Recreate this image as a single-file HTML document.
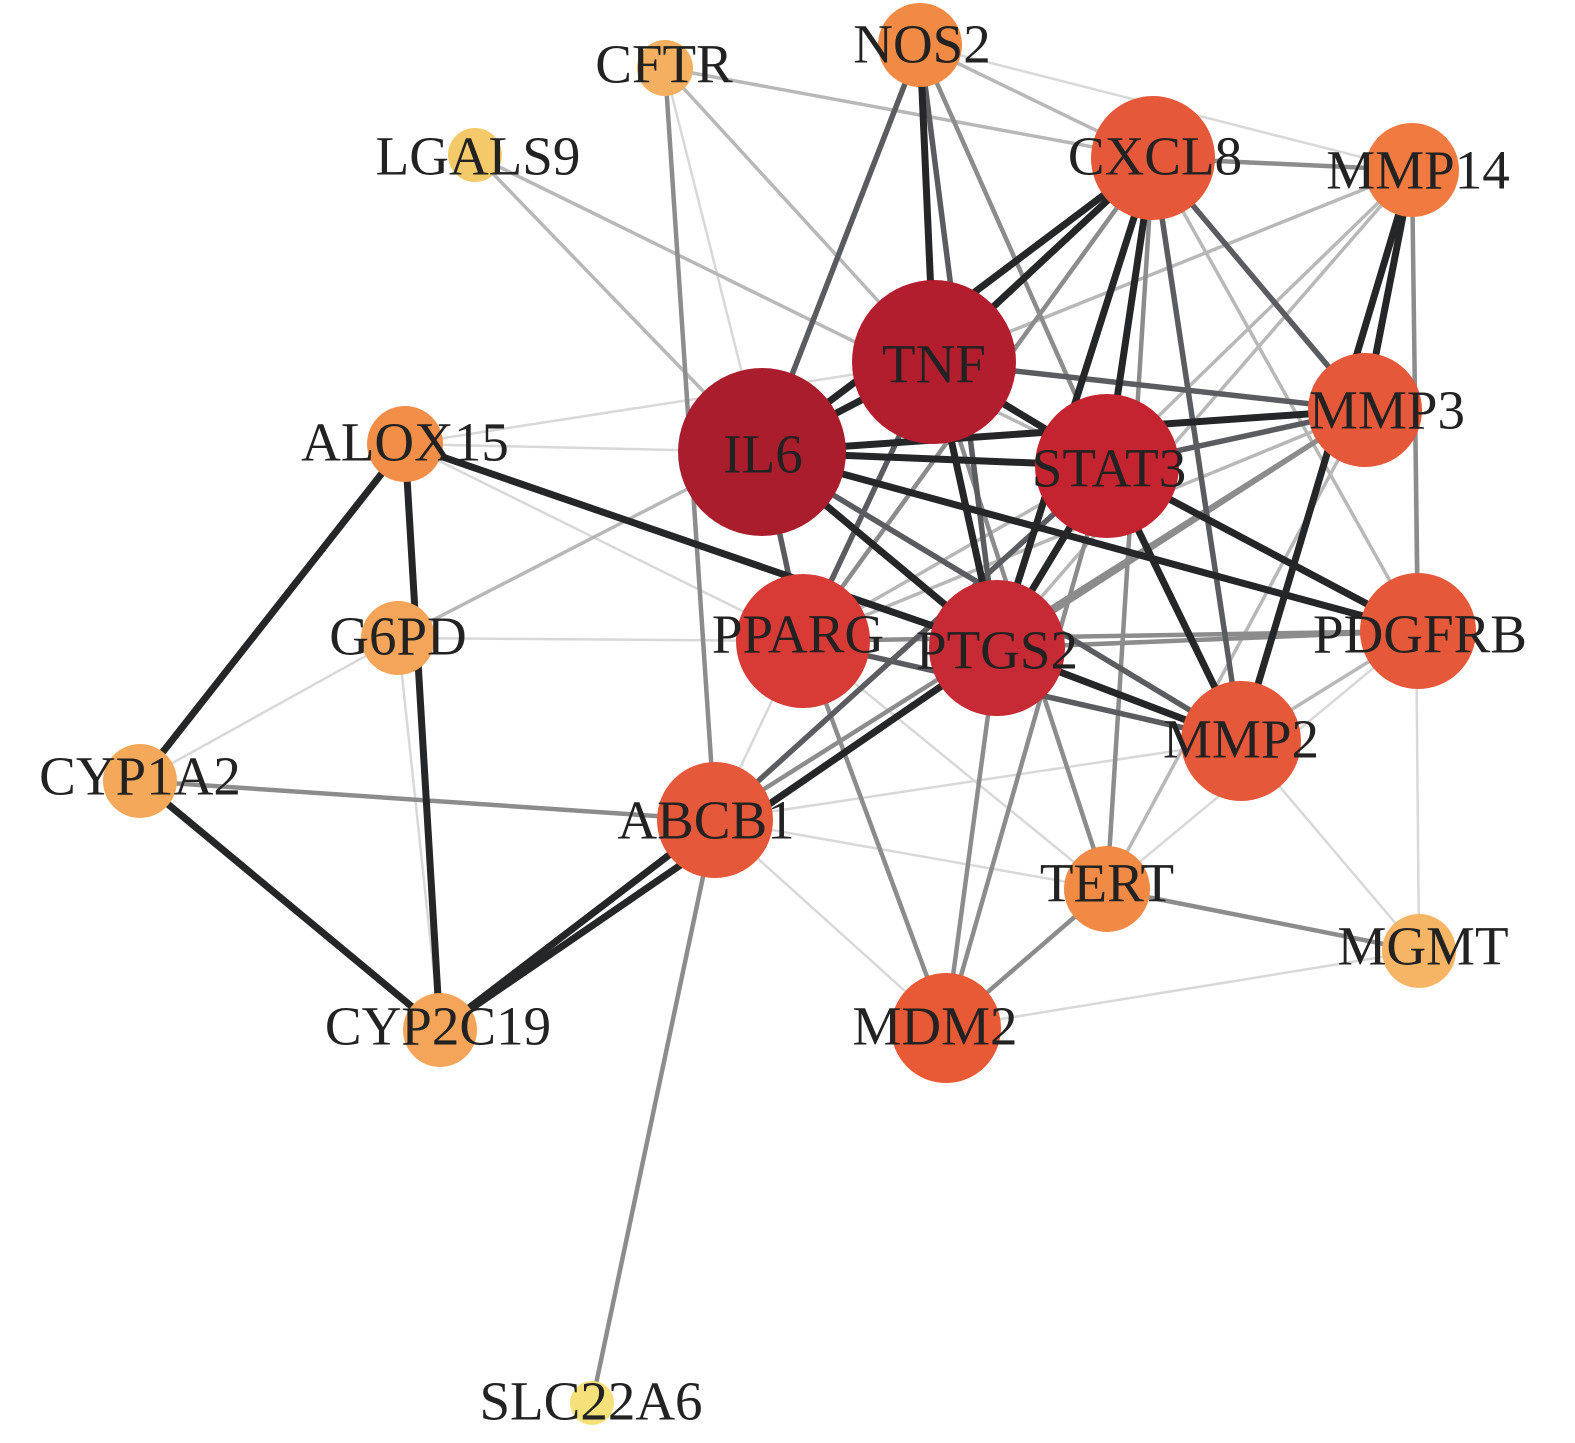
<!DOCTYPE html>
<html><head><meta charset="utf-8"><style>
html,body{margin:0;padding:0;background:#fff;}
svg{display:block;}
text{font-family:"Liberation Serif",serif;font-size:55px;fill:#222;text-anchor:middle;dominant-baseline:central;}
</style></head><body>
<svg width="1575" height="1443" viewBox="0 0 1575 1443" xmlns="http://www.w3.org/2000/svg">
<g stroke-linecap="round">
<g stroke="#d8d8d8" stroke-width="2.5">
<line x1="665" y1="68" x2="762" y2="452"/>
<line x1="405" y1="444" x2="934" y2="362"/>
<line x1="405" y1="444" x2="762" y2="452"/>
<line x1="398" y1="638" x2="803" y2="641"/>
<line x1="398" y1="638" x2="140" y2="781"/>
<line x1="398" y1="638" x2="440" y2="1030"/>
<line x1="946" y1="1028" x2="1419" y2="951"/>
<line x1="1241" y1="741" x2="1419" y2="951"/>
<line x1="715" y1="820" x2="1241" y2="741"/>
<line x1="715" y1="820" x2="1107" y2="889"/>
<line x1="715" y1="820" x2="946" y2="1028"/>
<line x1="1412" y1="170" x2="1419" y2="951"/>
<line x1="803" y1="641" x2="1107" y2="889"/>
<line x1="1107" y1="889" x2="1418" y2="631"/>
<line x1="920" y1="45" x2="1412" y2="170"/>
<line x1="405" y1="444" x2="803" y2="641"/>
<line x1="715" y1="820" x2="934" y2="362"/>
</g>
<g stroke="#b8b8b8" stroke-width="3.5">
<line x1="665" y1="68" x2="1153" y2="158"/>
<line x1="665" y1="68" x2="934" y2="362"/>
<line x1="475" y1="155" x2="762" y2="452"/>
<line x1="475" y1="155" x2="1107" y2="466"/>
<line x1="398" y1="638" x2="934" y2="362"/>
<line x1="920" y1="45" x2="1153" y2="158"/>
<line x1="1412" y1="170" x2="934" y2="362"/>
<line x1="1412" y1="170" x2="1107" y2="466"/>
<line x1="1412" y1="170" x2="997" y2="648"/>
<line x1="1365" y1="410" x2="803" y2="641"/>
<line x1="1365" y1="410" x2="1107" y2="889"/>
<line x1="1418" y1="631" x2="1241" y2="741"/>
<line x1="1153" y1="158" x2="1418" y2="631"/>
<line x1="1107" y1="466" x2="803" y2="641"/>
</g>
<g stroke="#8c8c8c" stroke-width="4.5">
<line x1="665" y1="68" x2="715" y2="820"/>
<line x1="715" y1="820" x2="592" y2="1403"/>
<line x1="140" y1="781" x2="715" y2="820"/>
<line x1="1153" y1="158" x2="1412" y2="170"/>
<line x1="1412" y1="170" x2="1418" y2="631"/>
<line x1="1107" y1="889" x2="1419" y2="951"/>
<line x1="1153" y1="158" x2="1107" y2="889"/>
<line x1="803" y1="641" x2="1418" y2="631"/>
<line x1="997" y1="648" x2="1418" y2="631"/>
<line x1="997" y1="648" x2="946" y2="1028"/>
<line x1="1107" y1="466" x2="946" y2="1028"/>
<line x1="803" y1="641" x2="946" y2="1028"/>
<line x1="1107" y1="889" x2="946" y2="1028"/>
<line x1="1365" y1="410" x2="997" y2="648"/>
<line x1="1365" y1="410" x2="715" y2="820"/>
<line x1="920" y1="45" x2="1107" y2="466"/>
<line x1="934" y1="362" x2="1107" y2="889"/>
<line x1="1153" y1="158" x2="803" y2="641"/>
</g>
<g stroke="#5a5c60" stroke-width="5.5">
<line x1="920" y1="45" x2="762" y2="452"/>
<line x1="920" y1="45" x2="997" y2="648"/>
<line x1="1153" y1="158" x2="1365" y2="410"/>
<line x1="1153" y1="158" x2="1241" y2="741"/>
<line x1="934" y1="362" x2="1365" y2="410"/>
<line x1="1107" y1="466" x2="1365" y2="410"/>
<line x1="762" y1="452" x2="1241" y2="741"/>
<line x1="803" y1="641" x2="1241" y2="741"/>
<line x1="762" y1="452" x2="803" y2="641"/>
<line x1="934" y1="362" x2="803" y2="641"/>
<line x1="1107" y1="466" x2="715" y2="820"/>
</g>
<g stroke="#252628" stroke-width="7">
<line x1="920" y1="45" x2="934" y2="362"/>
<line x1="1153" y1="158" x2="934" y2="362"/>
<line x1="1153" y1="158" x2="762" y2="452"/>
<line x1="1153" y1="158" x2="1107" y2="466"/>
<line x1="1153" y1="158" x2="997" y2="648"/>
<line x1="762" y1="452" x2="934" y2="362"/>
<line x1="762" y1="452" x2="1107" y2="466"/>
<line x1="762" y1="452" x2="997" y2="648"/>
<line x1="762" y1="452" x2="1365" y2="410"/>
<line x1="762" y1="452" x2="1418" y2="631"/>
<line x1="934" y1="362" x2="1107" y2="466"/>
<line x1="934" y1="362" x2="997" y2="648"/>
<line x1="1107" y1="466" x2="997" y2="648"/>
<line x1="1107" y1="466" x2="1241" y2="741"/>
<line x1="1107" y1="466" x2="1418" y2="631"/>
<line x1="1412" y1="170" x2="1365" y2="410"/>
<line x1="1412" y1="170" x2="1241" y2="741"/>
<line x1="405" y1="444" x2="997" y2="648"/>
<line x1="405" y1="444" x2="140" y2="781"/>
<line x1="405" y1="444" x2="440" y2="1030"/>
<line x1="140" y1="781" x2="440" y2="1030"/>
<line x1="715" y1="820" x2="440" y2="1030"/>
<line x1="997" y1="648" x2="440" y2="1030"/>
<line x1="997" y1="648" x2="1241" y2="741"/>
</g>
</g>
<g>
<circle cx="920" cy="45" r="42" fill="#f08a45"/>
<circle cx="665" cy="68" r="28" fill="#f4b060"/>
<circle cx="475" cy="155" r="27" fill="#f4c96a"/>
<circle cx="1153" cy="158" r="62" fill="#e5583a"/>
<circle cx="1412" cy="170" r="47" fill="#f07a40"/>
<circle cx="405" cy="444" r="38" fill="#f28e48"/>
<circle cx="1365" cy="410" r="57" fill="#e5583a"/>
<circle cx="398" cy="638" r="37" fill="#f4a55a"/>
<circle cx="1418" cy="631" r="58" fill="#e5583a"/>
<circle cx="140" cy="781" r="37" fill="#f4a85a"/>
<circle cx="715" cy="820" r="58" fill="#e5583a"/>
<circle cx="1241" cy="741" r="60" fill="#e5583a"/>
<circle cx="1107" cy="889" r="43" fill="#f08a45"/>
<circle cx="1419" cy="951" r="37" fill="#f6b565"/>
<circle cx="440" cy="1030" r="37" fill="#f4a55a"/>
<circle cx="946" cy="1028" r="55" fill="#e85a35"/>
<circle cx="592" cy="1403" r="22" fill="#f6e07a"/>
<circle cx="803" cy="641" r="67" fill="#d83a36"/>
<circle cx="997" cy="648" r="68" fill="#c62a34"/>
<circle cx="1107" cy="466" r="72" fill="#c4242f"/>
<circle cx="934" cy="362" r="82" fill="#b31e2e"/>
<circle cx="762" cy="452" r="84" fill="#a91d2c"/>
</g>
<g>
<text x="922" y="44">NOS2</text>
<text x="664" y="64">CFTR</text>
<text x="478" y="156">LGALS9</text>
<text x="1155" y="156">CXCL8</text>
<text x="1418" y="170">MMP14</text>
<text x="934" y="364">TNF</text>
<text x="763" y="454">IL6</text>
<text x="405" y="442">ALOX15</text>
<text x="1387" y="410">MMP3</text>
<text x="1109" y="468">STAT3</text>
<text x="398" y="636">G6PD</text>
<text x="798" y="634">PPARG</text>
<text x="997" y="650">PTGS2</text>
<text x="1420" y="634">PDGFRB</text>
<text x="140" y="776">CYP1A2</text>
<text x="706" y="820">ABCB1</text>
<text x="1241" y="739">MMP2</text>
<text x="1107" y="883">TERT</text>
<text x="1423" y="946">MGMT</text>
<text x="438" y="1026">CYP2C19</text>
<text x="935" y="1026">MDM2</text>
<text x="591" y="1401">SLC22A6</text>
</g>
</svg>
</body></html>
